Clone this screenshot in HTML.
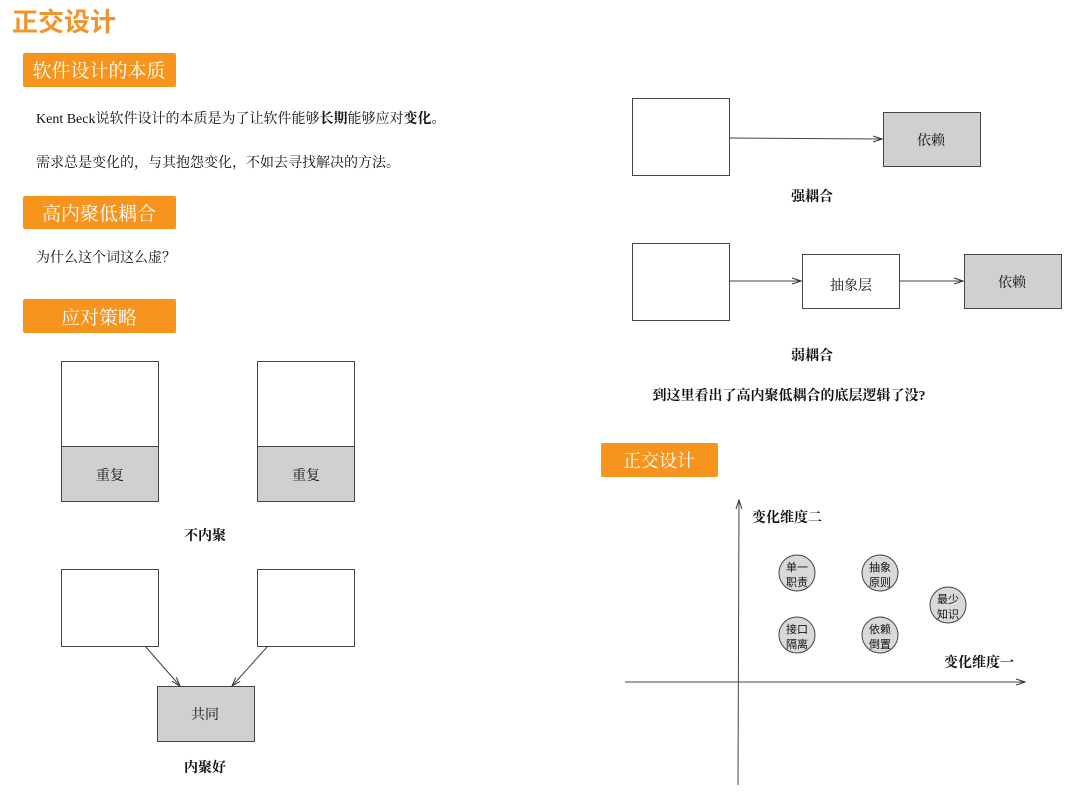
<!DOCTYPE html>
<html><head><meta charset="utf-8"><style>
html,body{margin:0;padding:0;background:#fff;}
body{width:1080px;height:794px;overflow:hidden;}
svg text{font-family:"Liberation Serif","Noto Serif CJK SC",serif;fill:#111;}
.s{font-family:"Liberation Sans","Noto Sans CJK SC",sans-serif !important;}
</style></head><body>
<svg width="1080" height="794" viewBox="0 0 1080 794" xmlns="http://www.w3.org/2000/svg">
<defs><marker id="a" markerWidth="10" markerHeight="8" refX="9" refY="4" orient="auto" markerUnits="userSpaceOnUse"><path d="M0,1 L9,4 L0,7" fill="none" stroke="#333" stroke-width="1"/></marker></defs>
<text x="12" y="31" class="s" font-size="26" font-weight="bold" style="fill:#f0952a">正交设计</text>
<rect x="23" y="53" width="153" height="34" rx="2" fill="#f7941e"/>
<text x="99" y="77" font-size="19" text-anchor="middle" style="fill:#fff">软件设计的本质</text>
<rect x="23" y="196" width="153" height="33" rx="2" fill="#f7941e"/>
<text x="99" y="220" font-size="19" text-anchor="middle" style="fill:#fff">高内聚低耦合</text>
<rect x="23" y="299" width="153" height="34" rx="2" fill="#f7941e"/>
<text x="99" y="324" font-size="19" text-anchor="middle" style="fill:#fff">应对策略</text>
<rect x="601" y="443" width="117" height="34" rx="2" fill="#f7941e"/>
<text x="659" y="467" font-size="18" text-anchor="middle" style="fill:#fff">正交设计</text>
<text x="36" y="123" font-size="14">Kent Beck说软件设计的本质是为了让软件能够<tspan font-weight="bold">长期</tspan>能够应对<tspan font-weight="bold">变化</tspan>。</text>
<text x="36" y="167" font-size="14">需求总是变化的，与其抱怨变化，不如去寻找解决的方法。</text>
<text x="36" y="262" font-size="14">为什么这个词这么虚？</text>
<g stroke="#444" stroke-width="1">
<rect x="61.5" y="361.5" width="97" height="140" fill="#fff"/>
<rect x="61.5" y="446.5" width="97" height="55" fill="#d0d0d0"/>
<rect x="257.5" y="361.5" width="97" height="140" fill="#fff"/>
<rect x="257.5" y="446.5" width="97" height="55" fill="#d0d0d0"/>
<rect x="61.5" y="569.5" width="97" height="77" fill="#fff"/>
<rect x="257.5" y="569.5" width="97" height="77" fill="#fff"/>
<rect x="157.5" y="686.5" width="97" height="55" fill="#d0d0d0"/>
<line x1="145" y1="646" x2="180" y2="686" marker-end="url(#a)"/>
<line x1="268" y1="646" x2="232" y2="686" marker-end="url(#a)"/>
<rect x="632.5" y="98.5" width="97" height="77" fill="#fff"/>
<rect x="883.5" y="112.5" width="97" height="54" fill="#d0d0d0"/>
<line x1="729" y1="138" x2="882" y2="139" marker-end="url(#a)"/>
<rect x="632.5" y="243.5" width="97" height="77" fill="#fff"/>
<rect x="802.5" y="254.5" width="97" height="54" fill="#fff"/>
<rect x="964.5" y="254.5" width="97" height="54" fill="#d0d0d0"/>
<line x1="729" y1="281" x2="801" y2="281" marker-end="url(#a)"/>
<line x1="899" y1="281" x2="963" y2="281" marker-end="url(#a)"/>
<line x1="738" y1="785" x2="739" y2="500" marker-end="url(#a)"/>
<line x1="625" y1="682" x2="1025" y2="682" marker-end="url(#a)"/>
<g fill="#d9d9d9"><circle cx="797" cy="573" r="18"/><circle cx="880" cy="573" r="18"/><circle cx="948" cy="605" r="18"/><circle cx="797" cy="635" r="18"/><circle cx="880" cy="635" r="18"/></g>
</g>
<g font-size="14" text-anchor="middle">
<text x="110" y="480">重复</text><text x="306" y="480">重复</text>
<text x="205" y="540" font-weight="bold">不内聚</text>
<text x="205" y="719">共同</text>
<text x="205" y="772" font-weight="bold">内聚好</text>
<text x="931" y="145">依赖</text>
<text x="812" y="201" font-weight="bold">强耦合</text>
<text x="851" y="290">抽象层</text>
<text x="1012" y="287">依赖</text>
<text x="812" y="360" font-weight="bold">弱耦合</text>
<text x="789" y="400" font-weight="bold">到这里看出了高内聚低耦合的底层逻辑了没?</text>
<text x="787" y="522" font-weight="bold">变化维度二</text>
<text x="979" y="667" font-weight="bold">变化维度一</text>
</g>
<g font-size="11" text-anchor="middle" class="s">
<text x="797" y="571" class="s">单一</text><text x="797" y="586" class="s">职责</text>
<text x="880" y="571" class="s">抽象</text><text x="880" y="586" class="s">原则</text>
<text x="948" y="603" class="s">最少</text><text x="948" y="618" class="s">知识</text>
<text x="797" y="633" class="s">接口</text><text x="797" y="648" class="s">隔离</text>
<text x="880" y="633" class="s">依赖</text><text x="880" y="648" class="s">倒置</text>
</g>
</svg>
</body></html>
